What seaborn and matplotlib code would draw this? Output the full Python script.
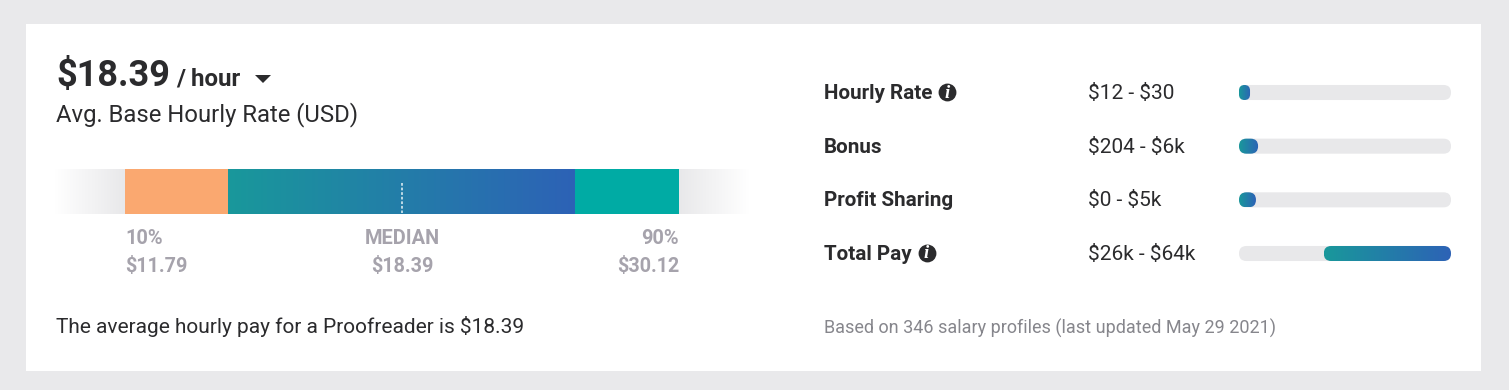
import numpy as np
import pandas as pd
import matplotlib
matplotlib.use("Agg")
import matplotlib.pyplot as plt
from matplotlib.colors import LinearSegmentedColormap
from matplotlib.patches import FancyBboxPatch, Rectangle
import seaborn as sns

# percentile band
band_names = ["below", "p10", "middle", "p90", "above"]
band_widths = [10, 15, 50, 15, 10]
median_pos = 50
band_labels = ["10%", "MEDIAN", "90%"]
band_values = ["$11.79", "$18.39", "$30.12"]

# pay rows
pay_names = ["Hourly Rate", "Bonus", "Profit Sharing", "Total Pay"]
pay_ranges = ["$12 - $30", "$204 - $6k", "$0 - $5k", "$26k - $64k"]
pay_low = [0, 0, 0, 40]
pay_high = [5.2, 9, 8, 100]
pay_track = [100, 100, 100, 100]
has_info = [True, False, False, True]

W, H = 1509, 390
PAGE = "#e9e9eb"
INK = "#2b2b2d"
GREY = "#a6a3ac"
FOOT = "#86868c"
TRACK = "#e8e8ea"
grad = LinearSegmentedColormap.from_list("pay", ["#19989b", "#2d62b6"])
fade_in = LinearSegmentedColormap.from_list("fi", ["#ffffff", "#e8e8ea"])
fade_out = LinearSegmentedColormap.from_list("fo", ["#e8e8ea", "#ffffff"])

sns.set_theme(style="white")
plt.rcParams["font.family"] = ["Roboto", "DejaVu Sans"]

fig = plt.figure(figsize=(W / 100, H / 100), dpi=100, facecolor=PAGE)


def px_axes(x0, y0, x1, y1):
    return fig.add_axes([x0 / W, 1 - y1 / H, (x1 - x0) / W, (y1 - y0) / H])


# page layer, in pixels
page = px_axes(0, 0, W, H)
page.set_xlim(0, W)
page.set_ylim(H, 0)
page.set_axis_off()
page.add_patch(Rectangle((26, 24), 1455, 347, color="white", lw=0))


def txt(x, y, s, size, color=INK, weight="normal", ha="left", **kw):
    return page.text(x, y, s, fontsize=size, color=color, weight=weight, ha=ha, va="baseline",
                     parse_math=False, **kw)


txt(56, 86, "$18.39", 26, weight="bold")
txt(176, 85.5, "/ hour", 17.4, weight="bold")
page.fill([255, 271, 263], [75, 75, 83], color=INK, lw=0)
txt(56, 121.5, "Avg. Base Hourly Rate (USD)", 17.2)

# percentile bar
ax = px_axes(54.8, 169, 748.8, 214)
ends = np.cumsum(band_widths)
df = pd.DataFrame({"band": band_names[::-1], "end": ends[::-1], "row": "pay"})
sns.barplot(data=df, x="end", y="row", hue="band", dodge=False, width=1.0, legend=False, ax=ax,
            palette=["#ffffff", "#00aba4", "#2d62b6", "#faa870", "#ffffff"], linewidth=0, saturation=1)
starts = ends - np.array(band_widths)
for i, cm in [(0, fade_in), (2, grad), (4, fade_out)]:
    ax.imshow(np.linspace(0, 1, 256).reshape(1, -1), cmap=cm, aspect="auto",
              extent=(starts[i], ends[i], 0.5, -0.5), zorder=3)
ax.plot([median_pos, median_pos], [-0.18, 0.48], color="#e6f2f5", lw=1.1, ls=(0, (1.8, 1.2)), zorder=4)
ax.set_xlim(0, 100)
ax.set_ylim(0.5, -0.5)
ax.set_axis_off()

# labels under the bar
txt(125, 243.5, band_labels[0], 14.4, GREY, "bold")
txt(402, 243.5, band_labels[1], 14.4, GREY, "bold", ha="center")
txt(679, 243.5, band_labels[2], 14.4, GREY, "bold", ha="right")
txt(125, 272.5, band_values[0], 14.2, GREY, "bold")
txt(402, 272.5, band_values[1], 14.2, GREY, "bold", ha="center")
txt(679, 272.5, band_values[2], 14.2, GREY, "bold", ha="right")

txt(56, 333, "The average hourly pay for a Proofreader is $18.39", 15)
txt(824, 333.5, "Based on 346 salary profiles (last updated May 29 2021)", 12.95, FOOT)

# pay rows, bars
row_step = 53.67
bx = px_axes(1239, 92.5 - row_step / 2, 1451, 253.5 + row_step / 2)
pay = pd.DataFrame({"name": pay_names, "track": pay_track,
                    "span": np.array(pay_high) - np.array(pay_low)})
sns.barplot(data=pay, x="track", y="name", color=TRACK, width=0.28, saturation=1, linewidth=0, ax=bx)
n_track = len(bx.patches)
sns.barplot(data=pay, x="span", y="name", color="#2d62b6", width=0.28, saturation=1, linewidth=0,
            left=pay_low, ax=bx)
bx.set_xlim(0, 100)
bx.set_ylim(3.5, -0.5)
aspect = (1 / row_step) / (100 / 212)
for k, bar in enumerate(list(bx.patches)):
    x, y, w, h = bar.get_x(), bar.get_y(), bar.get_width(), bar.get_height()
    bar.set_visible(False)
    r = min(3.5, w / 2)
    is_fill = k >= n_track
    box = FancyBboxPatch((x, y), w, h, boxstyle=f"round,pad=0,rounding_size={r}", mutation_aspect=aspect,
                         fc=TRACK if not is_fill else "none", ec="none", lw=0, zorder=2)
    bx.add_patch(box)
    if is_fill:
        im = bx.imshow(np.linspace(0, 1, 256).reshape(1, -1), cmap=grad, aspect="auto",
                       extent=(x, x + w, y + h, y), zorder=3)
        im.set_clip_path(box)
bx.set_xlim(0, 100)
bx.set_ylim(3.5, -0.5)
bx.set_axis_off()

# pay rows, text
baselines = [99, 153, 206, 260]
for name, rng, base, info in zip(pay_names, pay_ranges, baselines, has_info):
    t = txt(824, base, name, 14.85, weight="bold")
    txt(1088, base, rng, 15)
    if info:
        fig.canvas.draw()
        right = t.get_window_extent().x1
        cx = right + 15
        page.scatter([cx], [base - 7], s=165, color=INK, lw=0, zorder=3)
        page.text(cx, base - 1.5, "i", fontsize=13.5, color="white", weight="bold", style="italic",
                  family="Liberation Serif", ha="center", va="baseline", zorder=4)

fig.savefig("out.png", dpi=100, facecolor=PAGE)
